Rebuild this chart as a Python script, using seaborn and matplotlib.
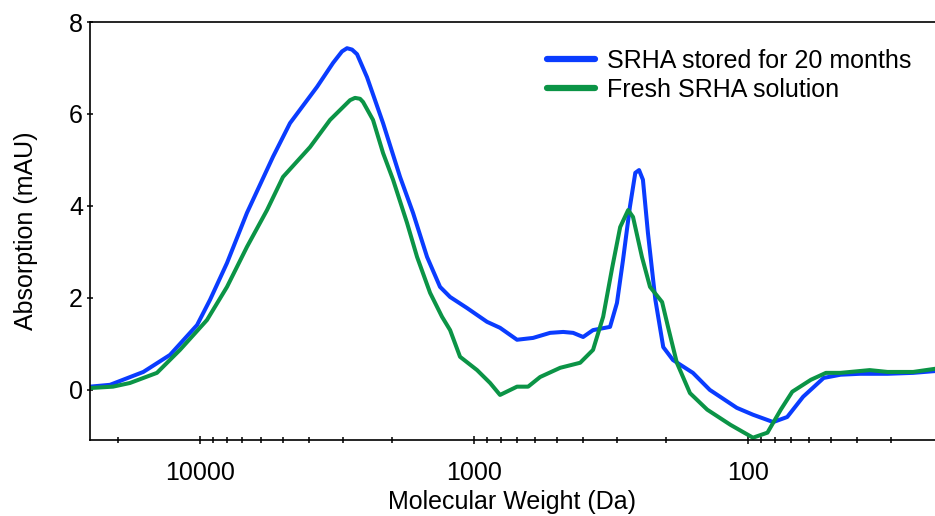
import numpy as np
import pandas as pd
import matplotlib
matplotlib.use("Agg")
import matplotlib.pyplot as plt
import seaborn as sns
from matplotlib.ticker import LogLocator, FixedLocator, FixedFormatter, NullFormatter
from matplotlib.lines import Line2D

# Data (molecular weight in Da, absorption in mAU)
stored_mw = [25200, 21300, 16100, 12870, 10250, 9190, 7970, 6740, 5415, 4695, 3740, 3270,
             3033, 2908, 2788, 2673, 2458, 2148, 1862, 1670, 1484, 1331, 1223, 1061, 897, 804, 697, 609,
             528, 473, 435, 400, 368, 319, 301, 286, 270, 258, 250, 242, 232, 218, 204, 188,
             159, 138, 110, 96, 81, 72, 63, 53, 46, 39, 31, 25, 20.7]
stored_abs = [0.07, 0.11, 0.39, 0.76, 1.41, 1.96, 2.76, 3.85, 5.07, 5.80, 6.59, 7.11,
              7.36, 7.43, 7.40, 7.30, 6.80, 5.80, 4.63, 3.85, 2.89, 2.24, 2.02, 1.78, 1.48, 1.35, 1.09, 1.13,
              1.24, 1.26, 1.24, 1.15, 1.30, 1.37, 1.89, 2.83, 3.98, 4.72, 4.78, 4.57, 3.41, 1.96, 0.93, 0.65,
              0.37, 0.00, -0.39, -0.54, -0.70, -0.59, -0.15, 0.26, 0.33, 0.35, 0.35, 0.37, 0.41]

fresh_mw = [25200, 20780, 18010, 14360, 11830, 9430, 7970, 6740, 5695, 4980, 3967, 3354,
            3006, 2835, 2719, 2606, 2541, 2337, 2148, 1975, 1756, 1614, 1447, 1309, 1223, 1125, 975, 874,
            804, 697, 635, 574, 485, 410, 368, 338, 313, 293, 274, 263, 244, 228, 206, 196,
            182, 163, 141, 116, 96, 85, 76, 69, 59, 52, 46, 36, 31, 25, 20.7]
fresh_abs = [0.04, 0.07, 0.15, 0.37, 0.87, 1.52, 2.24, 3.11, 3.91, 4.63, 5.28, 5.87,
             6.15, 6.30, 6.35, 6.33, 6.26, 5.87, 5.15, 4.57, 3.63, 2.89, 2.11, 1.59, 1.30, 0.72, 0.43, 0.15,
             -0.11, 0.07, 0.07, 0.28, 0.48, 0.59, 0.87, 1.59, 2.67, 3.54, 3.91, 3.76, 2.89, 2.24, 1.91, 1.37,
             0.59, -0.07, -0.43, -0.76, -1.04, -0.93, -0.43, -0.04, 0.22, 0.37, 0.37, 0.43, 0.39, 0.39, 0.46]

labels = ["SRHA stored for 20 months", "Fresh SRHA solution"]
colors = ["#0a3cff", "#0b9446"]
x_ticks = [10000, 1000, 100]
x_ticklabels = ["10000", "1000", "100"]
y_ticks = [0, 2, 4, 6, 8]

df = pd.concat([
    pd.DataFrame({"mw": stored_mw, "abs": stored_abs, "series": labels[0]}),
    pd.DataFrame({"mw": fresh_mw, "abs": fresh_abs, "series": labels[1]}),
], ignore_index=True)

sns.set_style("ticks")
plt.rcParams["font.family"] = ["Liberation Sans", "DejaVu Sans"]
plt.rcParams["text.color"] = "black"
plt.rcParams["axes.labelcolor"] = "black"
plt.rcParams["xtick.color"] = "black"
plt.rcParams["ytick.color"] = "black"

W, H = 935, 516
fig = plt.figure(figsize=(W / 100, H / 100), dpi=100)
ax = fig.add_axes([90 / W, (H - 440) / H, (W - 90) / W, (440 - 22) / H])

sns.lineplot(data=df, x="mw", y="abs", hue="series", hue_order=labels,
             palette=colors, sort=False, estimator=None,
             linewidth=2.9, ax=ax, legend=False)
for ln in ax.get_lines():
    ln.set_solid_joinstyle("round")
    ln.set_solid_capstyle("round")

ax.set_xscale("log")
ax.set_xlim(25200, 20.8)
ax.set_ylim(-1.09, 8)

ax.xaxis.set_major_locator(FixedLocator(x_ticks))
ax.xaxis.set_major_formatter(FixedFormatter(x_ticklabels))
ax.xaxis.set_minor_locator(LogLocator(base=10, subs=np.arange(2, 10)))
ax.xaxis.set_minor_formatter(NullFormatter())
ax.set_yticks(y_ticks)

ax.tick_params(axis="x", which="major", direction="inout", length=6, width=1.1, labelsize=18, pad=12)
ax.tick_params(axis="x", which="minor", direction="inout", length=4, width=1.1)
ax.tick_params(axis="y", which="major", direction="inout", length=4, width=1.1, labelsize=18, pad=3)

for s in ["left", "bottom", "top"]:
    ax.spines[s].set_linewidth(1.2)
    ax.spines[s].set_color("black")
ax.spines["right"].set_visible(False)

ax.set_xlabel("Molecular Weight (Da)", fontsize=18, labelpad=4)
ax.set_ylabel("Absorption (mAU)", fontsize=18, labelpad=22)

handles = [Line2D([0], [0], color=c, linewidth=4.5) for c in colors]
ax.legend(handles, labels, loc="upper left", bbox_to_anchor=((547 - 90) / 845, (440 - 49) / 418),
          frameon=False, fontsize=18, handlelength=1.9, handletextpad=0.5,
          labelspacing=0.2, borderaxespad=0, borderpad=0)

fig.savefig("out.png", dpi=100)
